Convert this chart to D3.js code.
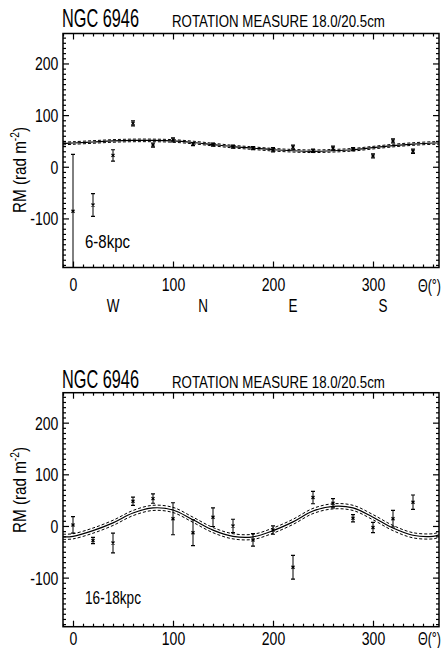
<!DOCTYPE html>
<html>
<head>
<meta charset="utf-8">
<script src="https://cdn.jsdelivr.net/npm/d3@7"></script>
<style>
body{margin:0;background:#fff;}
text{font-family:"Liberation Sans",sans-serif;fill:#000;}
</style>
</head>
<body>
<div id="chart"></div>
<script>
// position angle of the sectors (deg)
var theta = [0,20,40,60,80,100,120,140,160,180,200,220,240,260,280,300,320,340];
// 6-8 kpc ring
var rmInner  = [-86,-74,22,84,42,52,44,43,39,36,33,38,31,36,34,21,50,30];
var errInner = [110,22,11,5,4,4,3,3,3,3,4,4,3,4,3,4,4,4];
// 16-18 kpc ring
var rmOuter  = [2,-28,-33,48,53,14,-13,17,0,-27,-8,-80,55,44,15,-3,14,46];
var errOuter = [16,6,19,8,9,31,25,18,13,12,8,23,12,9,7,10,16,14];
var thetaFit = [-10,0,20,40,60,80,100,120,140,160,180,200,220,240,260,280,300,320,340,360,366];
var fitInner = [45,46,48,50,51,51,50,47,43,39,36,33,31,30,31,33,37,41,44,46,46];
var fitOuter = [-21,-20,-9,6,25,35,31,12,-8,-20,-21,-9,8,29,38,35,17,-4,-18,-20,-17];
var bandInner = 2.5, bandOuter = 5;
var xTicks = [0,100,200,300];
var yTicks = [-100,0,100,200];
var compass = [{t:40,s:'W'},{t:130,s:'N'},{t:220,s:'E'},{t:310,s:'S'}];

var W=441, H=648, ph=234;
var svg = d3.select('#chart').append('svg').attr('width',W).attr('height',H);
var x = d3.scaleLinear().domain([-10,366]).range([63,439]);

// squeeze a text to a given width (the original lettering is very narrow)
function fit(t, px, py, w, rot) {
    var L = t.node().getComputedTextLength();
    t.attr('transform','translate('+px+','+py+')'+(rot?' rotate('+rot+')':'')+' scale('+(w/L)+',1)');
    return t;
}

function panel(top, titleY, lblY, yLabC, ring, ringW, rm, err, fit0, band, tickY) {
    var y = d3.scaleLinear().domain([-195,258]).range([top+ph, top]);
    var g = svg.append('g');
    var cid = 'clip'+ring.replace(/[^0-9]/g,'');
    g.append('clipPath').attr('id',cid).append('rect')
        .attr('x',x.range()[0]).attr('y',top).attr('width',x.range()[1]-x.range()[0]).attr('height',ph);

    fit(g.append('text').attr('font-size',25).text('NGC 6946'), 62, titleY, 77);
    fit(g.append('text').attr('font-size',17).text('ROTATION MEASURE 18.0/20.5cm'), 172, titleY, 213);

    var pts = thetaFit.map((t,i)=>({t:t,v:fit0[i]}));
    var line = d3.line().x(d=>x(d.t)).curve(d3.curveCatmullRom);
    var cg = g.append('g').attr('clip-path','url(#'+cid+')');
    cg.append('path').attr('d',line.y(d=>y(d.v))(pts)).attr('fill','none').attr('stroke','#000').attr('stroke-width',1.2);
    [-band,band].forEach(function(b){
        cg.append('path').attr('d',line.y(d=>y(d.v+b))(pts)).attr('fill','none')
            .attr('stroke','#000').attr('stroke-width',1).attr('stroke-dasharray','3,2');
    });

    var data = theta.map((t,i)=>({t:t,v:rm[i],e:err[i]}));
    var eb = cg.selectAll('g.eb').data(data).enter().append('g').attr('class','eb');
    eb.append('line').attr('x1',d=>x(d.t)).attr('x2',d=>x(d.t))
        .attr('y1',d=>y(d.v-d.e)).attr('y2',d=>y(d.v+d.e)).attr('stroke','#000').attr('stroke-width',1);
    [-1,1].forEach(function(s){
        eb.append('line').attr('x1',d=>x(d.t)-2).attr('x2',d=>x(d.t)+2)
            .attr('y1',d=>y(d.v+s*d.e)).attr('y2',d=>y(d.v+s*d.e)).attr('stroke','#000').attr('stroke-width',1.2);
    });
    eb.append('path').attr('d',d=>{var cx=x(d.t),cy=y(d.v);
        return 'M'+(cx-1.5)+','+(cy-1.5)+'L'+(cx+1.5)+','+(cy+1.5)+'M'+(cx-1.5)+','+(cy+1.5)+'L'+(cx+1.5)+','+(cy-1.5);})
        .attr('stroke','#000').attr('stroke-width',1.3);

    // axes, ticks pointing inward
    var minX = d3.range(-10,366,10).filter(v=>v%100!=0);
    var minY = d3.range(-190,258,10).filter(v=>v%100!=0);
    var axes = [
        [d3.axisBottom(x),'translate(0,'+(top+ph)+')',xTicks,minX,'b'],
        [d3.axisTop(x),'translate(0,'+top+')',xTicks,minX,''],
        [d3.axisLeft(y),'translate('+x.range()[0]+',0)',yTicks,minY,'l'],
        [d3.axisRight(y),'translate('+x.range()[1]+',0)',yTicks,minY,'']
    ];
    axes.forEach(function(a){
        var ag = g.append('g').attr('transform',a[1]);
        ag.append('g').call(a[0].tickValues(a[3]).tickSize(-3).tickFormat(''));
        var mj = ag.append('g').call(a[0].tickValues(a[2]).tickSize(-6).tickFormat(a[4]?(d=>String(d)):''));
        ag.selectAll('.domain').remove();
        ag.selectAll('line').attr('stroke-width',1.2);
        var tx = mj.selectAll('text').attr('font-size',18).attr('font-family','Liberation Sans').attr('transform','scale(0.78,1)');
        if (a[4]=='b') tx.attr('y',tickY).attr('dy',0);
        if (a[4]=='l') tx.attr('x',-6).attr('dy','0.36em');
    });

    g.append('rect').attr('x',x.range()[0]).attr('y',top).attr('width',x.range()[1]-x.range()[0]).attr('height',ph)
        .attr('fill','none').attr('stroke','#000').attr('stroke-width',1.5);

    var th = g.append('text').attr('text-anchor','end').attr('font-size',18).text('\u0398(\u00b0)');
    fit(th, x(366)+2, top+ph+tickY, 23);

    var yl = g.append('text').attr('text-anchor','middle').attr('font-size',18);
    yl.append('tspan').text('RM (rad m');
    yl.append('tspan').attr('font-size',12).attr('dy',-7).text('-2');
    yl.append('tspan').attr('dy',7).text(')');
    fit(yl, 26, yLabC, 86, -90);

    fit(g.append('text').attr('font-size',19).text(ring), 85, lblY, ringW);
    return g;
}

panel(33.5, 27, 248, 170, '6-8kpc', 45, rmInner, errInner, fitInner, bandInner, 24);
panel(392.7, 388, 604, 490, '16-18kpc', 56, rmOuter, errOuter, fitOuter, bandOuter, 18);

svg.selectAll('text.compass').data(compass).enter().append('text').attr('class','compass')
    .attr('transform',d=>'translate('+x(d.t)+',312) scale(0.75,1)')
    .attr('text-anchor','middle').attr('font-size',18).text(d=>d.s);
</script>
</body>
</html>
